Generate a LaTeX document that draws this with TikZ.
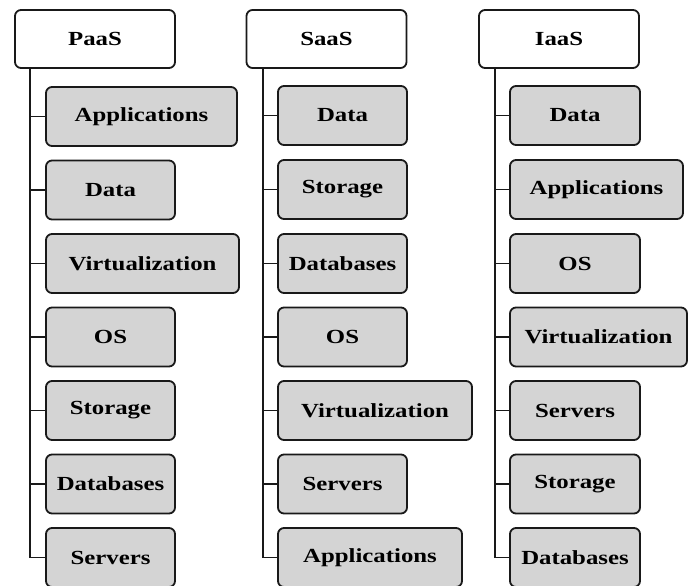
\documentclass[tikz,border=0pt]{standalone}
\usepackage{fontspec}
\setmainfont{Liberation Serif}[FakeStretch=1.24]
\begin{document}
\begin{tikzpicture}[x=1pt,y=-1pt,
  base/.style={draw=black!90, line width=1.8pt, rounded corners=6pt,
    minimum height=59pt, inner sep=0pt,
    font=\fontsize{20}{22}\selectfont\bfseries},
  head/.style={base, fill=white, minimum height=58pt, minimum width=160pt},
  item/.style={base, fill=black!17},
  link/.style={line width=1.8pt, draw=black!90}]
\useasboundingbox (0,0) rectangle (689,586);

% headers
\node[head] (hP) at (95,39)  {PaaS};
\node[head] (hS) at (326.5,39) {SaaS};
\node[head] (hI) at (559,39) {IaaS};

% PaaS column
\node[item, minimum width=191pt] (p1) at (141.5,116.5) {Applications};
\node[item, minimum width=129pt] (p2) at (110.5,190)   {Data};
\node[item, minimum width=193pt] (p3) at (142.5,263.5) {Virtualization};
\node[item, minimum width=129pt] (p4) at (110.5,337)   {OS};
\node[item, minimum width=129pt] (p5) at (110.5,410.5) {Storage};
\node[item, minimum width=129pt] (p6) at (110.5,484)   {Databases};
\node[item, minimum width=129pt] (p7) at (110.5,557.5) {Servers};

% SaaS column
\node[item, minimum width=129pt] (s1) at (342.5,115.5) {Data};
\node[item, minimum width=129pt] (s2) at (342.5,189.5) {Storage};
\node[item, minimum width=129pt] (s3) at (342.5,263.5) {Databases};
\node[item, minimum width=129pt] (s4) at (342.5,337)   {OS};
\node[item, minimum width=194pt] (s5) at (375,410.5)   {Virtualization};
\node[item, minimum width=129pt] (s6) at (342.5,484)   {Servers};
\node[item, minimum width=184pt] (s7) at (370,557.5)   {Applications};

% IaaS column
\node[item, minimum width=130pt] (i1) at (575,115.5) {Data};
\node[item, minimum width=173pt] (i2) at (596.5,189.5) {Applications};
\node[item, minimum width=130pt] (i3) at (575,263.5) {OS};
\node[item, minimum width=177pt] (i4) at (598.5,337) {Virtualization};
\node[item, minimum width=130pt] (i5) at (575,410.5) {Servers};
\node[item, minimum width=130pt] (i6) at (575,484)   {Storage};
\node[item, minimum width=130pt] (i7) at (575,557.5) {Databases};

% trunks and branches
\coordinate (tP) at ([xshift=16pt]hP.south west);
\coordinate (tS) at ([xshift=17pt]hS.south west);
\coordinate (tI) at ([xshift=17pt]hI.south west);
\foreach \c/\t in {p/tP, s/tS, i/tI}{
  \draw[link] (\t) |- (\c7.west);
  \foreach \k in {1,...,6}
    \draw[link] (\c\k.west) -- (\c\k.west -| \t);
}
\end{tikzpicture}
\end{document}
